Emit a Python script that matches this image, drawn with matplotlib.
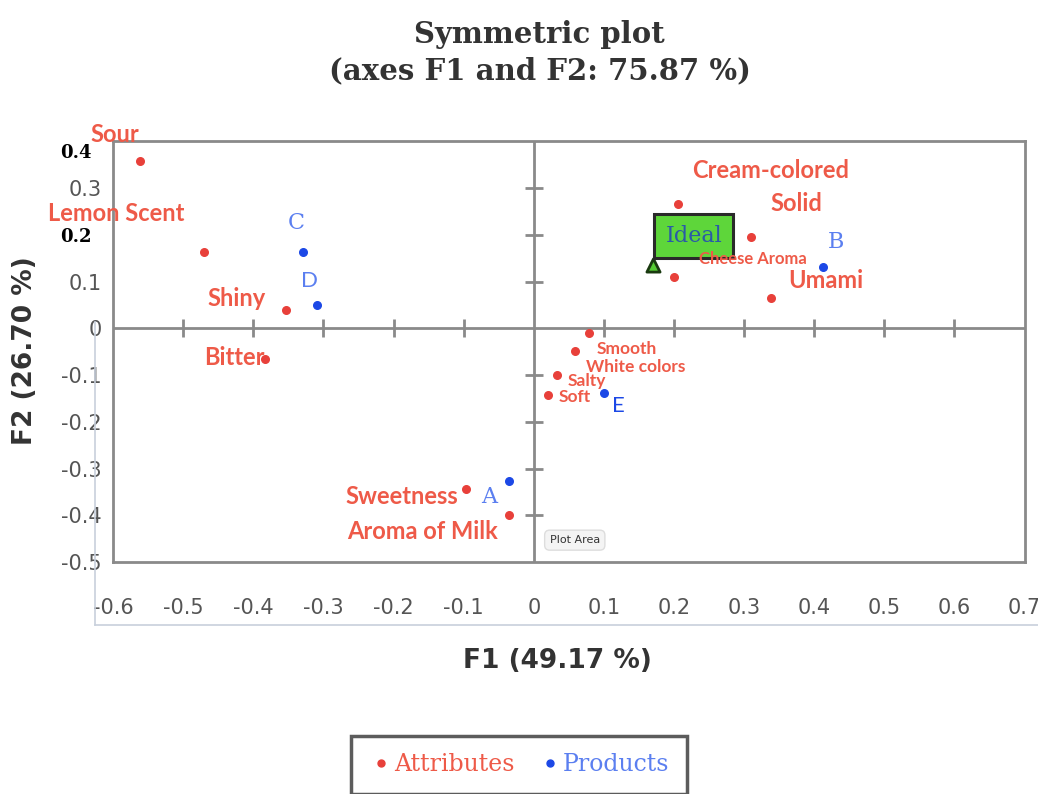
import numpy as np
import matplotlib.pyplot as plt
from matplotlib.lines import Line2D
from matplotlib.transforms import ScaledTranslation

# attributes (red)
attr_names = ['Sour', 'Lemon Scent', 'Shiny', 'Bitter', 'Cream-colored', 'Solid',
              'Cheese Aroma', 'Umami', 'Smooth', 'White colors', 'Salty', 'Soft',
              'Sweetness', 'Aroma of Milk']
attr_x = [-0.561, -0.47, -0.353, -0.383, 0.206, 0.31, 0.2, 0.339, 0.079, 0.059, 0.033, 0.021, -0.096, -0.036]
attr_y = [0.357, 0.164, 0.040, -0.066, 0.266, 0.196, 0.109, 0.066, -0.009, -0.049, -0.100, -0.143, -0.343, -0.400]

# products (blue)
prod_names = ['A', 'B', 'C', 'D', 'E']
prod_x = [-0.036, 0.413, -0.329, -0.309, 0.100]
prod_y = [-0.326, 0.132, 0.164, 0.049, -0.139]

ideal_x, ideal_y = 0.17, 0.136

x_ticks = [-0.6, -0.5, -0.4, -0.3, -0.2, -0.1, 0, 0.1, 0.2, 0.3, 0.4, 0.5, 0.6, 0.7]
y_ticks = [-0.5, -0.4, -0.3, -0.2, -0.1, 0, 0.1, 0.2, 0.3, 0.4]

RED = '#e8403a'
RED_TXT = '#ee5a48'
BLUE = '#1c48e6'
BLUE_TXT = '#5b7ff0'
GRAY = '#8a8a8a'

fig = plt.figure(figsize=(10.38, 7.94), dpi=100)
ax = fig.add_axes([0.109, 0.292, 0.878, 0.53])
ax.set_xlim(-0.6, 0.7)
ax.set_ylim(-0.5, 0.4)
for s in ax.spines.values():
    s.set_color(GRAY)
    s.set_linewidth(2)

# cross lines with small ticks
ax.axhline(0, color=GRAY, lw=2, zorder=1)
ax.axvline(0, color=GRAY, lw=2, zorder=1)
inner_x = [t for t in x_ticks if -0.6 < t < 0.7 and t != 0]
inner_y = [t for t in y_ticks if -0.5 < t < 0.4 and t != 0]
ax.plot(inner_x, np.zeros(len(inner_x)), '|', ms=13, mew=2, color=GRAY, zorder=1)
ax.plot(np.zeros(len(inner_y)), inner_y, '_', ms=13, mew=2, color=GRAY, zorder=1)

ax.set_xticks(x_ticks)
ax.set_xticklabels(['-0.6', '-0.5', '-0.4', '-0.3', '-0.2', '-0.1', '0', '0.1', '0.2', '0.3', '0.4', '0.5', '0.6', '0.7'])
ax.set_yticks(y_ticks)
ax.set_yticklabels(['-0.5', '-0.4', '-0.3', '-0.2', '-0.1', '0', '0.1', '0.2', '0.3', '0.4'])
ax.tick_params(axis='x', length=0, pad=26, labelsize=15, labelcolor='#555555')
ax.tick_params(axis='y', length=0, pad=8, labelsize=15, labelcolor='#555555')
for lab in ax.get_yticklabels():
    if lab.get_text() in ('0.4', '0.2'):
        lab.set_fontfamily('DejaVu Serif')
        lab.set_fontweight('bold')
        lab.set_color('black')
        lab.set_fontsize(13)
        shift = -0.1 if lab.get_text() == '0.4' else 0
        lab.set_transform(lab.get_transform() + ScaledTranslation(-0.1, shift, fig.dpi_scale_trans))

ax.scatter(attr_x, attr_y, s=30, color=RED, zorder=3)
ax.scatter(prod_x, prod_y, s=30, color=BLUE, zorder=3)

# attribute labels (offsets in pixels)
attr_off = {
    'Sour': (-26, 27), 'Lemon Scent': (-88, 38), 'Shiny': (-50, 11), 'Bitter': (-31, 2),
    'Cream-colored': (92, 33), 'Solid': (45, 33), 'Cheese Aroma': (79, 18), 'Umami': (54, 17),
    'Smooth': (38, -16), 'White colors': (61, -16), 'Salty': (30, -6), 'Soft': (26, -2),
    'Sweetness': (-65, -8), 'Aroma of Milk': (-86, -16),
}
attr_size = {'Cheese Aroma': 12, 'Smooth': 12.5, 'White colors': 12.5, 'Salty': 12.5, 'Soft': 12.5}
for n, x, y in zip(attr_names, attr_x, attr_y):
    dx, dy = attr_off[n]
    ax.annotate(n, (x, y), xytext=(dx, dy), textcoords='offset pixels', ha='center', va='center',
                color=RED_TXT, fontsize=attr_size.get(n, 17), fontweight='bold', family='Lato', zorder=6)

prod_off = {'A': (-19, -16), 'B': (13, 25), 'C': (-7, 29), 'D': (-8, 24), 'E': (14, -13)}
for n, x, y in zip(prod_names, prod_x, prod_y):
    dx, dy = prod_off[n]
    fam = 'Lato' if n in ('D', 'E') else 'DejaVu Serif'
    ax.annotate(n, (x, y), xytext=(dx, dy), textcoords='offset pixels', ha='center', va='center',
                color=BLUE_TXT if n != 'E' else BLUE, fontsize=16, family=fam, zorder=4)

# ideal point
ax.scatter([ideal_x], [ideal_y], marker='^', s=90, color='#55cc33', edgecolors='#1a3a10', linewidths=2, zorder=4)
ax.annotate('Ideal', (ideal_x, ideal_y), xytext=(41, 29), textcoords='offset pixels', ha='center', va='center',
            color='#2a5aa8', fontsize=16, family='DejaVu Serif', zorder=5,
            bbox=dict(boxstyle='square,pad=0.5', fc='#5ed63a', ec='#2a2a2a', lw=2.2))

# tooltip
ax.annotate('Plot Area', (0, -0.5), xytext=(41, 22), textcoords='offset pixels', ha='center', va='center',
            fontsize=8, color='#333333', zorder=5,
            bbox=dict(boxstyle='round,pad=0.45', fc='#f4f4f4', ec='#dddddd', lw=1))

# outer frame lines
fig.add_artist(Line2D([0.092, 0.092], [0.213, 0.595], color='#c8d0dc', lw=1.2))
fig.add_artist(Line2D([0.092, 1.0], [0.213, 0.213], color='#c8d0dc', lw=1.2))

fig.text(0.52, 0.957, 'Symmetric plot', ha='center', va='center', fontsize=21, fontweight='bold',
         family='DejaVu Serif', color='#333333')
fig.text(0.52, 0.911, '(axes F1 and F2: 75.87 %)', ha='center', va='center', fontsize=21, fontweight='bold',
         family='DejaVu Serif', color='#333333')
fig.text(0.537, 0.168, 'F1 (49.17 %)', ha='center', va='center', fontsize=19, fontweight='bold', color='#333333')
fig.text(0.024, 0.558, 'F2 (26.70 %)', ha='center', va='center', rotation=90, fontsize=19, fontweight='bold', color='#333333')

handles = [Line2D([], [], marker='o', ls='', color=RED, ms=5),
           Line2D([], [], marker='o', ls='', color=BLUE, ms=5)]
leg = fig.legend(handles, ['Attributes', 'Products'], loc='lower center', bbox_to_anchor=(0.5, 0.0),
                 ncol=2, frameon=True, fancybox=False, handletextpad=0.05, handlelength=1.0,
                 columnspacing=1.0, borderpad=0.75, borderaxespad=0.0,
                 prop={'family': 'DejaVu Serif', 'size': 17})
leg.get_frame().set_edgecolor('#333333')
leg.get_frame().set_linewidth(2.5)
for t, c in zip(leg.get_texts(), [RED_TXT, BLUE_TXT]):
    t.set_color(c)

fig.savefig('out.png', dpi=100)
